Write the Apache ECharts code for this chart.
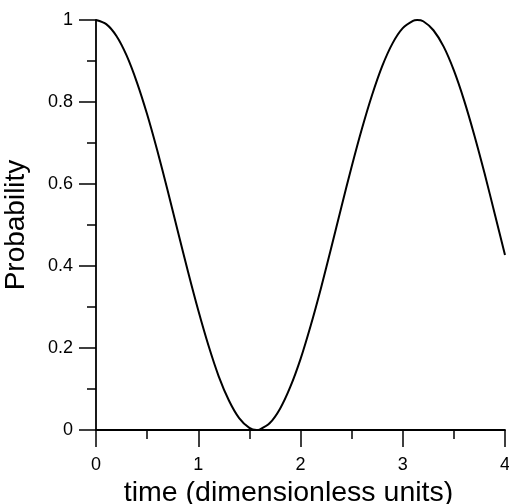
<!DOCTYPE html>
<html>
<head>
<meta charset="utf-8">
<script src="https://cdn.jsdelivr.net/npm/echarts@6/dist/echarts.min.js"></script>
<style>html,body{margin:0;padding:0;background:#fff}#c{width:509px;height:504px}</style>
</head>
<body>
<div id="c"></div>
<script>
const timeValues = [0,0.1,0.2,0.3,0.4,0.5,0.6,0.7,0.8,0.9,1.0,1.1,1.2,1.3,1.4,1.5,1.57,1.6,1.7,1.8,1.9,2.0,2.1,2.2,2.3,2.4,2.5,2.6,2.7,2.8,2.9,3.0,3.1,3.14,3.2,3.3,3.4,3.5,3.6,3.7,3.8,3.9,4.0];
const probValues = [1,0.990,0.961,0.913,0.848,0.770,0.681,0.585,0.485,0.386,0.292,0.206,0.131,0.072,0.029,0.005,0.0,0.001,0.017,0.052,0.105,0.173,0.255,0.346,0.444,0.544,0.642,0.734,0.817,0.888,0.943,0.980,0.998,1.0,0.997,0.975,0.935,0.877,0.804,0.719,0.626,0.527,0.427];
const xTicks = [0,1,2,3,4];
const yTicks = [0,0.2,0.4,0.6,0.8,1];

const chart = echarts.init(document.getElementById('c'));
const font = '"Liberation Sans", Arial, sans-serif';
chart.setOption({
  animation: false,
  backgroundColor: '#fff',
  grid: {left: 96, right: 4, top: 20, bottom: 74, outerBoundsMode: 'none', containLabel: false},
  xAxis: {
    type: 'value', min: xTicks[0], max: xTicks[xTicks.length-1], interval: 1,
    name: 'time (dimensionless units)', nameLocation: 'middle', nameGap: 39,
    nameTextStyle: {fontSize: 28.5, color: '#000', fontFamily: font, padding: [0, 24, 0, 0]},
    axisLine: {show: true, lineStyle: {color: '#000', width: 1.8}},
    axisTick: {show: true, inside: false, length: 17, lineStyle: {color: '#000', width: 1.5}},
    minorTick: {show: true, splitNumber: 2, length: 9, lineStyle: {color: '#000', width: 1.5}},
    axisLabel: {fontSize: 18, color: '#000', fontFamily: font, margin: 26},
    splitLine: {show: false}
  },
  yAxis: {
    type: 'value', min: yTicks[0], max: yTicks[yTicks.length-1], interval: 0.2,
    name: 'Probability', nameLocation: 'middle', nameGap: 66,
    nameTextStyle: {fontSize: 28, color: '#000', fontFamily: font},
    axisLine: {show: true, lineStyle: {color: '#000', width: 1.8}},
    axisTick: {show: true, inside: false, length: 17, lineStyle: {color: '#000', width: 1.5}},
    minorTick: {show: true, splitNumber: 2, length: 9, lineStyle: {color: '#000', width: 1.5}},
    axisLabel: {fontSize: 18, color: '#000', fontFamily: font, margin: 23},
    splitLine: {show: false}
  },
  series: [{
    type: 'line',
    data: timeValues.map((t, i) => [t, probValues[i]]),
    smooth: 0.3,
    showSymbol: false,
    lineStyle: {color: '#000', width: 2},
    clip: false
  }]
});
</script>
</body>
</html>
